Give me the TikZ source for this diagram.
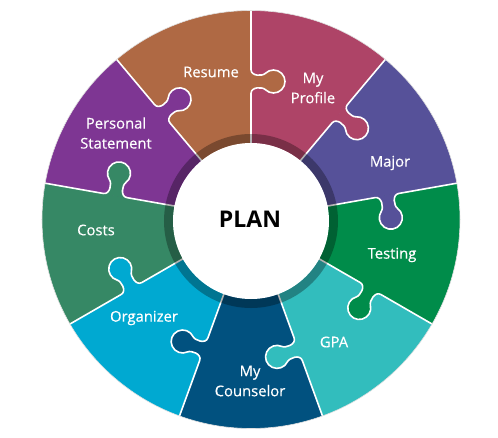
\documentclass[tikz,border=0pt]{standalone}
\usepackage{fontspec}
\setmainfont{Open Sans}
\newfontfamily\lblfont[FakeBold=0.4]{Open Sans}
\definecolor{cResume}{HTML}{AF6944}
\definecolor{cProfile}{HTML}{AE4467}
\definecolor{cMajor}{HTML}{565199}
\definecolor{cTesting}{HTML}{008C4A}
\definecolor{cGPA}{HTML}{32BDBD}
\definecolor{cCouns}{HTML}{01517F}
\definecolor{cOrg}{HTML}{00A9D1}
\definecolor{cCosts}{HTML}{368865}
\definecolor{cPers}{HTML}{7E3693}
\begin{document}
\begin{tikzpicture}[x=1pt,y=1pt,
  lbl/.style={text=white,font=\lblfont\fontsize{14.8}{20}\selectfont,align=center,inner sep=0pt},
  seam/.style={draw=white,line width=1.6pt,line join=round}]
\useasboundingbox (-251,-217.5) rectangle (247,219.5);
\def\Ro{209}
\def\rk{138}
% sectors
\foreach \a/\c in {90/cResume,50/cProfile,10/cMajor,-30/cTesting,-70/cGPA,-110/cCouns,-150/cOrg,170/cCosts,130/cPers}{
  \fill[\c] (0,0) -- (\a:\Ro) arc[start angle=\a,end angle=\a+40,radius=\Ro] -- cycle;
}
% knobs
\foreach \a/\c in {90/cResume,50/cProfile,10/cMajor,-30/cTesting,-70/cGPA,-110/cCouns,-150/cOrg,170/cCosts,130/cPers}{
  \fill[\c,rotate=\a] (\rk-12,0.5) -- (\rk-12,0) .. controls (\rk-5,0) and (\rk-5.3,-11.54) .. (\rk-8.13,-14.37)
     arc[start angle=135,end angle=405,radius=11.5]
     .. controls (\rk+5.3,-11.54) and (\rk+5,0) .. (\rk+12,0) -- (\rk+12,0.5) -- cycle;
}
% seams
\foreach \a in {90,50,10,-30,-70,-110,-150,170,130}{
  \draw[seam,rotate=\a] (70,0) -- (\rk-12,0) .. controls (\rk-5,0) and (\rk-5.3,-11.54) .. (\rk-8.13,-14.37)
     arc[start angle=135,end angle=405,radius=11.5]
     .. controls (\rk+5.3,-11.54) and (\rk+5,0) .. (\rk+12,0) -- (\Ro,0);
}
\draw[black!12,line width=0.6pt] (0,0) circle (\Ro);
% inner ring
\fill[black,opacity=0.3,even odd rule] (0,-1.5) circle (87) (0,-1.5) circle (78);
\fill[white] (0,-1.5) circle (78);
\node[font=\fontsize{23}{26}\selectfont\bfseries,inner sep=0pt] (plan) at (-1,0.5) {PLAN};
% labels
\node[lbl] (resume) at (-40,147.5) {Resume};
\node[lbl] (profile) at (62,131.5) {My\\Profile};
\node[lbl] (major) at (139,56.5) {Major};
\node[lbl] (testing) at (141,-35.5) {Testing};
\node[lbl] (gpa) at (83,-122.5) {GPA};
\node[lbl] (couns) at (-1,-161.5) {My\\Counselor};
\node[lbl] (org) at (-107,-98.5) {Organizer};
\node[lbl] (costs) at (-155,-10.5) {Costs};
\node[lbl] (pers) at (-135,86.5) {Personal\\Statement};
\end{tikzpicture}
\end{document}
